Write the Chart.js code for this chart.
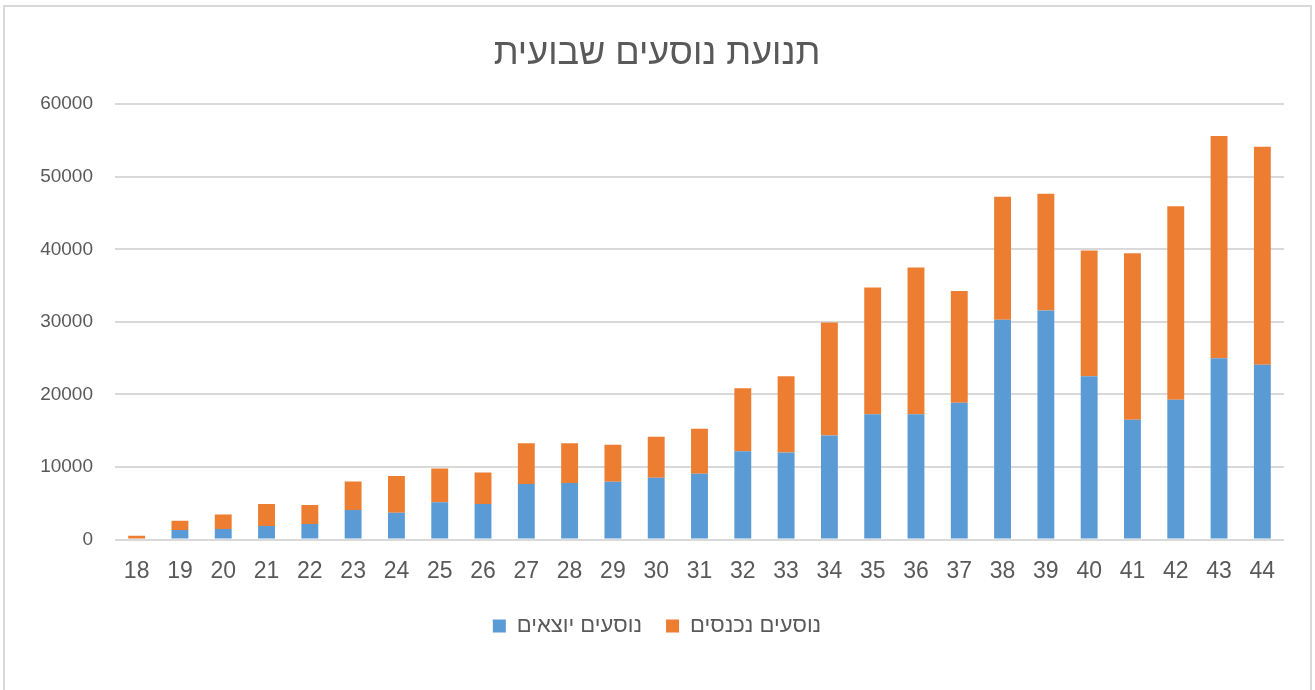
<!DOCTYPE html>
<html>
<head>
<meta charset="utf-8">
<script src="https://cdn.jsdelivr.net/npm/chart.js@4/dist/chart.umd.min.js"></script>
<style>
  body { margin: 0; background: #fff; }
  #frame {
    position: absolute; left: 3px; top: 5px; width: 1309px; height: 700px;
    border: 2px solid #d9d9d9; box-sizing: border-box;
  }
  #weekly-chart { position: absolute; left: 0; top: 0; }
</style>
</head>
<body>
<div id="frame"></div>
<canvas id="weekly-chart" width="1315" height="690"></canvas>
<script>
const weeks = ['18','19','20','21','22','23','24','25','26','27','28','29','30','31','32','33','34','35','36','37','38','39','40','41','42','43','44'];
// outgoing passengers (blue, bottom of stack)
const outgoing = [0,1300,1450,1850,2150,4050,3700,5150,4900,7650,7800,7950,8500,9050,12150,12000,14350,17250,17250,18850,30300,31550,22500,16500,19250,25000,24100];
// incoming passengers (orange, on top)
const incoming = [500,1300,2000,3050,2600,3950,5050,4650,4350,5600,5450,5100,5650,6200,8700,10500,15550,17500,20250,15400,16950,16100,17350,22950,26700,30600,30050];
const yTicks = [0,10000,20000,30000,40000,50000,60000];

const textColor = '#595959';
const fontFamily = '"Liberation Sans", "DejaVu Sans", Arial, sans-serif';

const ctx = document.getElementById('weekly-chart').getContext('2d');
new Chart(ctx, {
    type: 'bar',
    data: {
        labels: weeks,
        datasets: [
            {
                label: 'נוסעים יוצאים',
                data: outgoing,
                backgroundColor: '#5b9bd5',
                stack: 's'
            },
            {
                label: 'נוסעים נכנסים',
                data: incoming,
                backgroundColor: '#ed7d31',
                stack: 's'
            }
        ]
    },
    options: {
        responsive: false,
        animation: false,
        categoryPercentage: 1,
        barPercentage: 0.39,
        layout: { padding: { left: 30, right: 31, top: 0, bottom: 43 } },
        plugins: {
            title: {
                display: true,
                text: 'תנועת נוסעים שבועית',
                color: textColor,
                font: { family: fontFamily, size: 36, weight: 'normal' },
                padding: { top: 32, bottom: 29 }
            },
            legend: {
                position: 'bottom',
                labels: {
                    color: textColor,
                    font: { family: fontFamily, size: 22 },
                    boxWidth: 13,
                    boxHeight: 13,
                    padding: 24
                }
            },
            tooltip: { enabled: false }
        },
        scales: {
            x: {
                stacked: true,
                grid: { display: false },
                border: { display: false },
                ticks: {
                    color: textColor,
                    font: { family: fontFamily, size: 23 },
                    padding: 10,
                    maxRotation: 0,
                    autoSkip: false
                },
                afterFit: scale => { scale.height = 51.5; }
            },
            y: {
                stacked: true,
                min: 0,
                max: 60000,
                afterBuildTicks: scale => { scale.ticks = yTicks.map(v => ({ value: v })); },
                grid: { color: '#d9d9d9', lineWidth: 2, drawTicks: false },
                border: { display: false },
                ticks: {
                    color: textColor,
                    font: { family: fontFamily, size: 19 },
                    padding: 22,
                    callback: v => String(v)
                },
                afterFit: scale => { scale.width = 85; }
            }
        }
    }
});
</script>
</body>
</html>
